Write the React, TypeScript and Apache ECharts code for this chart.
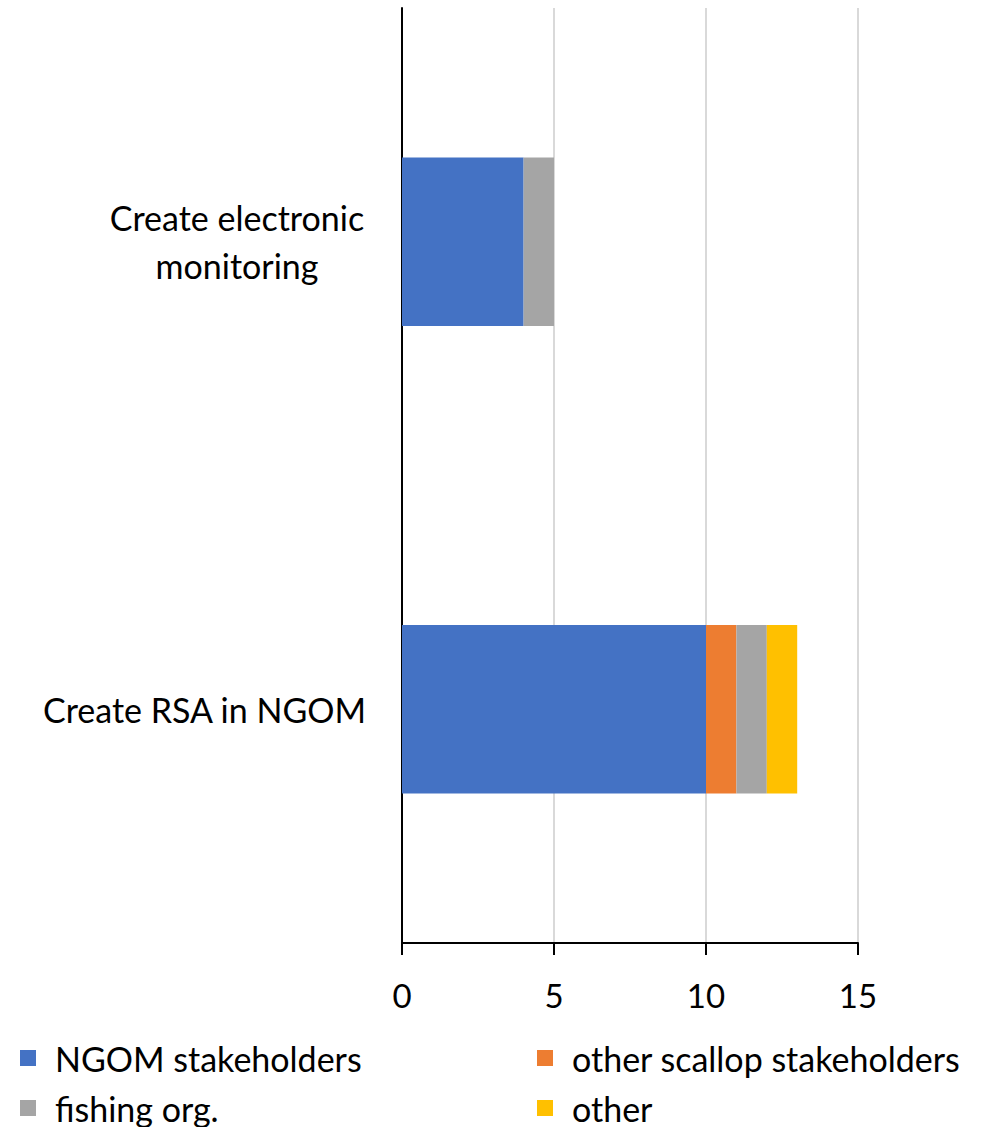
import React, { useEffect, useRef } from "react";
import * as echarts from "echarts";

const categories = ["Create RSA in NGOM", "Create electronic monitoring"];
const seriesNames = ["NGOM stakeholders", "other scallop stakeholders", "fishing org.", "other"];
const ngomValues = [10, 4];
const otherScallopValues = [1, 0];
const fishingOrgValues = [1, 1];
const otherValues = [1, 0];
const xTicks = [0, 5, 10, 15];
const colors = ["#4472C4", "#ED7D31", "#A5A5A5", "#FFC000"];

const FONT = "Lato";

export default function App() {
  const ref = useRef<HTMLDivElement>(null);
  useEffect(() => {
    document.body.style.margin = "0";
    if (!ref.current) return;
    const chart = echarts.init(ref.current, undefined, { renderer: "svg" });
    const valuesList = [ngomValues, otherScallopValues, fishingOrgValues, otherValues];
    const legendPos = [
      { left: 20, top: 1040 },
      { left: 537, top: 1040 },
      { left: 20, top: 1090 },
      { left: 537, top: 1090 },
    ];
    chart.setOption({
      animation: false,
      backgroundColor: "#ffffff",
      color: colors,
      grid: { left: 402, right: 132, top: 8, bottom: 184, containLabel: false },
      xAxis: {
        type: "value",
        min: xTicks[0],
        max: xTicks[xTicks.length - 1],
        interval: 5,
        axisLine: { show: true, lineStyle: { color: "#000000", width: 2 } },
        axisTick: { show: true, length: 12, lineStyle: { color: "#000000", width: 2 } },
        axisLabel: { fontSize: 33, fontFamily: FONT, color: "#000000", margin: 35 },
        splitLine: { show: true, lineStyle: { color: "#d9d9d9", width: 2 } },
      },
      yAxis: {
        type: "category",
        data: categories,
        axisLine: { show: true, lineStyle: { color: "#000000", width: 2 } },
        axisTick: { show: false },
        axisLabel: {
          fontSize: 34,
          fontFamily: FONT,
          color: "#000000",
          margin: 36,
          formatter: (v: string) =>
            v === "Create electronic monitoring" ? "{c|Create electronic}\n{c|monitoring}" : v,
          rich: {
            c: {
              width: 258,
              align: "center",
              fontSize: 34,
              lineHeight: 48,
              fontFamily: FONT,
              color: "#000000",
            },
          },
        },
      },
      legend: seriesNames.map((n, i) => ({
        data: [n],
        left: legendPos[i].left,
        top: legendPos[i].top,
        icon: "rect",
        itemWidth: 16,
        itemHeight: 16,
        padding: 0,
        textStyle: {
          fontSize: 34,
          fontFamily: FONT,
          color: "#000000",
          lineHeight: 36,
          padding: [0, 0, 0, 14],
        },
      })),
      series: seriesNames.map((n, i) => ({
        name: n,
        type: "bar",
        stack: "total",
        barCategoryGap: "64%",
        data: valuesList[i],
        itemStyle: { color: colors[i] },
      })),
    });
    return () => chart.dispose();
  }, []);
  return <div ref={ref} style={{ width: 990, height: 1127 }} />;
}
